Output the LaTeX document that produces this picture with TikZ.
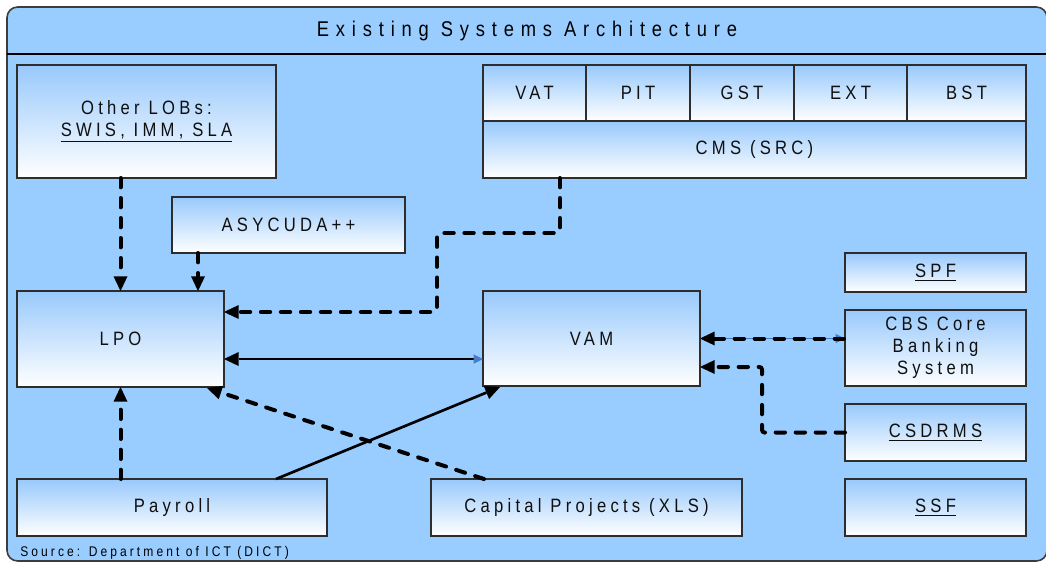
\documentclass[tikz,border=0pt]{standalone}
\usepackage{fontspec}
\setmainfont{Liberation Sans}[FakeStretch=0.86,LetterSpace=22]
\usetikzlibrary{arrows.meta}
\definecolor{paneblue}{RGB}{153,204,255}
\definecolor{boxtop}{RGB}{152,201,252}
\definecolor{tipblue}{RGB}{70,125,205}
\tikzset{
  blk/.tip={Triangle[length=11pt,width=10.5pt,line width=0pt]},
  blu/.tip={Triangle[length=7pt,width=7pt,line width=0pt,color=tipblue]}
}

\begin{document}
\begin{tikzpicture}[x=0.75pt,y=0.75pt,yscale=-1,xscale=1,
  box/.style 2 args={draw={rgb,255:red,45;green,45;blue,45}, line width=0.8pt, top color=boxtop, bottom color=white, minimum width=#1*0.75pt, minimum height=#2*0.75pt, inner sep=0pt, outer sep=0pt, align=center, text={rgb,255:red,15;green,15;blue,15}, font=\fontsize{14.5}{16.5}\selectfont},
  dashflow/.style={line width=3pt, line cap=round, dash pattern=on 7pt off 8pt},
  flow/.style={line width=2pt}]
\useasboundingbox (0,0) rectangle (1046,562);

%Shape: Frame [id:frame]
\draw [draw={rgb,255:red,60;green,60;blue,60}, fill=paneblue, rounded corners=8pt, line width=1.2pt] (7,7) rectangle (1047,561);
\draw [line width=1pt] (7,54) -- (1047,54);

% Text Node
\node [font=\fontsize{16}{18}\selectfont\addfontfeatures{LetterSpace=32}] (title) at (527,31) {Existing Systems Architecture};
% Text Node
\node [anchor=west, inner sep=0pt, font=\fontsize{10.5}{12}\selectfont] (source) at (20,553) {Source: Department of ICT (DICT)};

%Shape: Rectangle [id:lobs]
\node [box={259}{113}] (lobs) at (146.5,121.5) {Other LOBs:\\\underline{SWIS, IMM, SLA}};
%Shape: Rectangle [id:asy]
\node [box={233}{56}] (asy) at (288.5,225) {ASYCUDA++};
%Shape: Rectangle [id:cms]
\node [box={103}{56}] (vat) at (534.5,93) {VAT};
\node [box={104}{56}] (pit) at (638,93) {PIT};
\node [box={104}{56}] (gst) at (742,93) {GST};
\node [box={113}{56}] (ext) at (850.5,93) {EXT};
\node [box={119}{56}] (bst) at (966.5,93) {BST};
\node [box={543}{57}] (cms) at (754.5,149.5) {CMS (SRC)};
%Shape: Rectangle [id:lpo]
\node [box={207}{96}] (lpo) at (120.5,339) {LPO};
%Shape: Rectangle [id:vam]
\node [box={217}{95}] (vam) at (591.5,338.5) {VAM};
%Shape: Rectangle [id:pay]
\node [box={310}{57}] (pay) at (172,507.5) {Payroll};
%Shape: Rectangle [id:cap]
\node [box={311}{57}] (cap) at (586.5,507.5) {Capital Projects (XLS)};
%Shape: Rectangle [id:right column]
\node [box={181}{39}] (spf) at (935.5,272.5) {\underline{SPF}};
\node [box={181}{76}] (cbs) at (935.5,348) {CBS Core\\Banking\\System};
\node [box={181}{57}] (csd) at (935.5,432.5) {\underline{CSDRMS}};
\node [box={181}{57}] (ssf) at (935.5,507.5) {\underline{SSF}};

%Connectors into LPO
\draw [dashflow, -blk] (lobs.south -| lpo.north) -- (lpo.north);
\coordinate (asyout) at (198,253);
\draw [dashflow, -blk] (asyout) -- (asyout |- lpo.north);
\coordinate (cmsout) at (560,178);
\draw [dashflow, -blk, rounded corners=2pt] (cmsout) -- (560,233) -| (437,312) -- (lpo.east |- 437,312);
\draw [dashflow, -blk] (lpo.south |- pay.north) -- (lpo.south);
\coordinate (capout) at (484,479);
\coordinate (lpofoot) at (207,388);
\draw [dashflow, -blk] (capout) -- (lpofoot);

%Connectors into VAM
\coordinate (vamin) at (483,359);
\draw [flow, blk-blu] (vamin -| lpo.east) -- (vamin);
\coordinate (payout) at (276,479);
\coordinate (vamfoot) at (500,387);
\draw [flow, -blk] (payout) -- (vamfoot);
\draw [tipblue, line width=1pt, -blu] (vam.east) -- (vam.east -| cbs.west);
\draw [dashflow, blk-] (vam.east) -- (vam.east -| cbs.west);
\coordinate (vamside) at (700,367);
\draw [dashflow, -blk, rounded corners=2pt] (csd.west) -| (762,367) -- (vamside);

\end{tikzpicture}
\end{document}
